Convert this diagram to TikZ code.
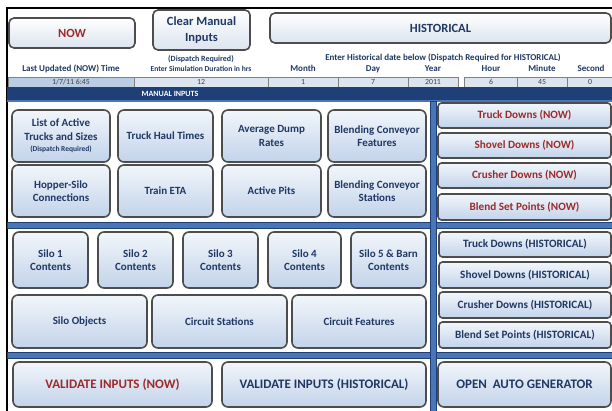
\documentclass[tikz,border=0pt]{standalone}
\usepackage{fontspec}
\setmainfont{Carlito}
\definecolor{navy}{HTML}{1F3864}
\definecolor{dred}{HTML}{9C2A2A}
\definecolor{btop}{HTML}{F2F6FB}
\definecolor{bbot}{HTML}{C2D3EA}
\definecolor{bord}{HTML}{4D4D4D}
\definecolor{band}{HTML}{1F3F77}
\definecolor{sepblue}{HTML}{4A76B8}
\definecolor{cellA}{HTML}{B9CDE5}
\definecolor{cellB}{HTML}{DCE4EF}
\definecolor{cellline}{HTML}{808080}
\definecolor{valtext}{HTML}{404040}
\tikzset{
  btn/.style={draw=bord, line width=1.6pt, rounded corners=6pt, top color=btop, bottom color=bbot,
    text=navy, font=\bfseries\fontsize{11}{13.5}\selectfont, align=center, inner sep=0pt},
  sidebtn/.style={btn, rounded corners=3.5pt, font=\bfseries\fontsize{11.2}{13}\selectfont},
  topbtn/.style={btn, rounded corners=5pt, top color=white, bottom color=cellB, font=\bfseries\fontsize{12.5}{15}\selectfont},
  redtext/.style={text=dred},
  bigtext/.style={font=\bfseries\fontsize{13}{15}\selectfont},
  hdr/.style={text=navy, font=\bfseries\fontsize{9}{10}\selectfont, inner sep=0pt, anchor=base},
  val/.style={text=valtext, font=\fontsize{7.8}{9}\selectfont, inner sep=0pt, anchor=base},
  cellbox/.style={draw=cellline, line width=0.6pt, fill=cellB},
  sepbar/.style={fill=sepblue, draw=band, line width=0.9pt},
}
\newcommand\mybtn[7][]{\node[btn,#1,minimum width={#5-#3}, minimum height={#6-#4}] (#2) at ({(#3+#5)/2},{(#4+#6)/2}) {#7};}
\begin{document}
\begin{tikzpicture}[x=1pt,y=-1pt]
\useasboundingbox (0,0) rectangle (612,411);
\fill[white] (0,0) rectangle (612,411);
% frame
\draw[line width=2.2pt] (7,411) -- (7,8) -- (612,8);
% top buttons
\mybtn[topbtn,redtext]{now}{9}{18}{135}{48}{NOW}
\mybtn[topbtn,font=\bfseries\fontsize{12.5}{16}\selectfont]{clear}{153}{10}{250}{50}{Clear Manual\\Inputs}
\mybtn[topbtn]{hist}{270}{13}{611}{43}{HISTORICAL}
% header texts
\node[hdr, font=\bfseries\fontsize{8}{9}\selectfont] (dispreq) at (201,61.5) {(Dispatch Required)};
\node[hdr] (histnote) at (443,60.5) {Enter Historical date below (Dispatch Required for HISTORICAL)};
\node[hdr] (h1) at (71,71.5) {Last Updated (NOW) Time};
\node[hdr, font=\bfseries\fontsize{7.6}{9}\selectfont] (h2) at (201,71.5) {Enter Simulation Duration in hrs};
\node[hdr] (h3) at (303,71.5) {Month};
\node[hdr] (h4) at (373,71.5) {Day};
\node[hdr] (h5) at (433,71.5) {Year};
\node[hdr] (h6) at (491,71.5) {Hour};
\node[hdr] (h7) at (542,71.5) {Minute};
\node[hdr] (h8) at (591,71.5) {Second};
% value cells
\draw[cellbox, fill=cellA] (8,77) rectangle (134,87);
\draw[cellbox] (134,77) rectangle (268,87);
\draw[cellbox] (268,77) rectangle (338,87);
\draw[cellbox] (338,77) rectangle (408,87);
\draw[cellbox] (408,77) rectangle (458,87);
\draw[cellbox] (464,77) rectangle (517,87);
\draw[cellbox] (517,77) rectangle (567,87);
\draw[cellbox] (567,77) rectangle (612,87);
\node[val] (v1) at (71,85) {1/7/11 6:45};
\node[val] (v2) at (201,85) {12};
\node[val] (v3) at (303,85) {1};
\node[val] (v4) at (373,85) {7};
\node[val] (v5) at (433,85) {2011};
\node[val] (v6) at (491,85) {6};
\node[val] (v7) at (542,85) {45};
\node[val] (v8) at (590,85) {0};
% manual inputs band
\fill[band] (7,87) rectangle (612,100);
\fill[sepblue] (7,100) rectangle (612,102);
\node[text=white, font=\bfseries\fontsize{8}{9}\selectfont, inner sep=0pt] (manual) at (170,93.5) {MANUAL INPUTS};
% separators
\draw[sepbar] (7,222) rectangle (612,228);
\draw[sepbar] (7,352) rectangle (612,358);
\draw[sepbar] (430,101) rectangle (436,411);
% upper left buttons
\mybtn{list}{12}{110}{110}{162}{List of Active\\Trucks and Sizes\\[-2pt]{\fontsize{7.5}{9}\selectfont (Dispatch Required)}}
\mybtn{haul}{118}{110}{213}{162}{Truck Haul Times}
\mybtn{dump}{222}{110}{321}{162}{Average Dump\\Rates}
\mybtn{bfeat}{328}{110}{426}{162}{Blending Conveyor\\Features}
\mybtn{hopper}{12}{165}{110}{217}{Hopper-Silo\\Connections}
\mybtn{train}{118}{165}{213}{217}{Train ETA}
\mybtn{pits}{222}{165}{321}{217}{Active Pits}
\mybtn{bstat}{328}{165}{426}{217}{Blending Conveyor\\Stations}
% right upper
\mybtn[sidebtn,redtext]{tdnow}{438}{103}{611}{128}{Truck Downs (NOW)}
\mybtn[sidebtn,redtext]{sdnow}{438}{133}{611}{158}{Shovel Downs (NOW)}
\mybtn[sidebtn,redtext]{cdnow}{438}{163}{611}{188}{Crusher Downs (NOW)}
\mybtn[sidebtn,redtext]{bpnow}{438}{194}{611}{220}{Blend Set Points (NOW)}
% silo row
\mybtn{silo1}{13}{232}{88}{288}{Silo 1\\Contents}
\mybtn{silo2}{98}{232}{173}{288}{Silo 2\\Contents}
\mybtn{silo3}{183}{232}{258}{288}{Silo 3\\Contents}
\mybtn{silo4}{268}{232}{341}{288}{Silo 4\\Contents}
\mybtn{silo5}{351}{232}{426}{288}{Silo 5 \& Barn\\Contents}
\mybtn{siloobj}{12}{295}{147}{348}{Silo Objects}
\mybtn{cstat}{152}{295}{287}{348}{Circuit Stations}
\mybtn{cfeat}{292}{295}{426}{348}{Circuit Features}
% right lower
\mybtn[sidebtn]{tdh}{439}{232}{611}{257}{Truck Downs (HISTORICAL)}
\mybtn[sidebtn]{sdh}{439}{262}{611}{288}{Shovel Downs (HISTORICAL)}
\mybtn[sidebtn]{cdh}{439}{292}{611}{318}{Crusher Downs (HISTORICAL)}
\mybtn[sidebtn]{bph}{439}{322}{611}{348}{Blend Set Points (HISTORICAL)}
% bottom
\mybtn[bigtext,redtext]{valnow}{13}{362}{212}{407}{VALIDATE INPUTS (NOW)}
\mybtn[bigtext]{valhist}{222}{362}{426}{407}{VALIDATE INPUTS (HISTORICAL)}
\mybtn[bigtext]{autogen}{438}{362}{611}{407}{OPEN\ \ AUTO GENERATOR}
\end{tikzpicture}
\end{document}
